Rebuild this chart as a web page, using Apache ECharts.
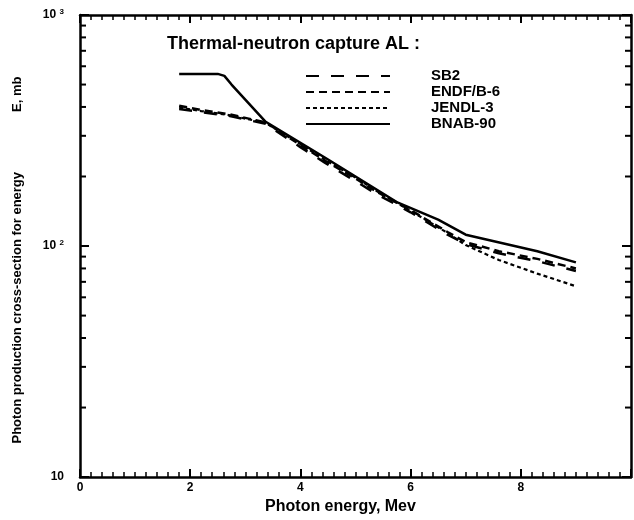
<!DOCTYPE html>
<html>
<head>
<meta charset="utf-8">
<script src="https://cdn.jsdelivr.net/npm/echarts@6/dist/echarts.min.js"></script>
<style>
  html, body { margin: 0; padding: 0; background: #fff; }
  #chart { width: 634px; height: 520px; }
</style>
</head>
<body>
<div id="chart"></div>
<script>
// energies (MeV) and cross-sections (mb)
const sb2E    = [1.8, 2.2, 2.7, 3.37, 4.0, 4.45, 5.0, 5.4, 6.0, 6.67, 7.0, 7.6, 8.3, 9.0];
const sb2     = [392, 380, 366, 338, 268, 229, 191, 167, 140, 112, 102, 93, 86, 78];
const endfE   = [1.8, 2.2, 2.7, 3.37, 4.0, 4.45, 5.0, 5.4, 6.0, 6.67, 7.0, 7.6, 8.3, 9.0];
const endf    = [405, 388, 372, 343, 274, 234, 196, 171, 143, 115, 104, 95, 88, 80];
const jendlE  = [1.8, 2.2, 2.7, 3.37, 4.0, 4.45, 5.0, 5.4, 6.0, 6.67, 7.0, 7.6, 8.3, 9.0];
const jendl   = [398, 384, 369, 341, 276, 236, 198, 172, 142, 114, 101, 87, 76, 67];
const bnabE   = [1.8, 2.5, 2.62, 2.75, 3.37, 4.0, 4.45, 5.0, 5.77, 6.5, 7.0, 8.3, 9.0];
const bnab    = [556, 556, 545, 500, 345, 280, 241, 200, 154, 130, 112, 95, 85];

const seriesNames = ['SB2', 'ENDF/B-6', 'JENDL-3', 'BNAB-90'];
const yMinorTicks = [20, 30, 40, 50, 60, 70, 80, 90, 200, 300, 400, 500, 600, 700, 800, 900];

const pairs = (xs, ys) => xs.map((x, i) => [x, ys[i]]);
const bold = 'bold';
const fam = '"Liberation Sans", Arial, sans-serif';

let myChart = echarts.init(document.getElementById('chart'));

function lineSeries(name, data, type, width) {
  return {
    name: name,
    type: 'line',
    data: data,
    symbol: 'none',
    smooth: false,
    lineStyle: { color: '#000', width: width, type: type },
    itemStyle: { color: '#000' },
    z: 3
  };
}

let option = {
  backgroundColor: '#fff',
  animation: false,
  textStyle: { fontFamily: fam },
  title: {
    text: 'Thermal-neutron capture AL :',
    left: 162,
    top: 30,
    textStyle: { fontSize: 18, fontWeight: bold, color: '#000', fontFamily: fam }
  },
  legend: {
    orient: 'vertical',
    left: 300,
    top: 63,
    itemWidth: 84,
    itemHeight: 10,
    itemGap: 0,
    data: seriesNames,
    itemStyle: { opacity: 0, borderWidth: 0 },
    textStyle: {
      fontSize: 15, fontWeight: bold, color: '#000', fontFamily: fam,
      lineHeight: 16,
      padding: [0, 0, 0, 36]
    }
  },
  grid: { left: 80, right: 2, top: 15, bottom: 42 },
  xAxis: [
    {
      type: 'value',
      min: 0, max: 10, interval: 2,
      name: 'Photon energy, Mev',
      nameLocation: 'middle',
      nameGap: 21,
      nameTextStyle: { fontSize: 16, fontWeight: bold, color: '#000', padding: [0, 30, 0, 0] },
      axisLine: { onZero: false, lineStyle: { color: '#000', width: 2.5 } },
      axisTick: { inside: true, length: 8, lineStyle: { color: '#000', width: 2 } },
      minorTick: { show: true, splitNumber: 10, length: 5, lineStyle: { color: '#000', width: 1.5 } },
      axisLabel: {
        fontSize: 12, fontWeight: bold, color: '#000', margin: 5,
        formatter: function (v) { return v >= 10 ? '' : String(v); }
      },
      splitLine: { show: false }
    },
    {
      type: 'value',
      position: 'top',
      min: 0, max: 10, interval: 2,
      axisLine: { onZero: false, lineStyle: { color: '#000', width: 2.5 } },
      axisTick: { inside: true, length: 8, lineStyle: { color: '#000', width: 2 } },
      minorTick: { show: true, splitNumber: 10, length: 5, lineStyle: { color: '#000', width: 1.5 } },
      axisLabel: { show: false },
      splitLine: { show: false }
    }
  ],
  yAxis: [
    {
      type: 'log',
      logBase: 10,
      min: 10, max: 1000,
      name: 'Photon production cross-section for energy{g|}E, mb',
      nameLocation: 'middle',
      nameGap: 56,
      nameRotate: 90,
      nameTextStyle: {
        fontSize: 13, fontWeight: bold, color: '#000', padding: [0, 28, 0, 0],
        rich: { g: { width: 60 } }
      },
      axisLine: { onZero: false, lineStyle: { color: '#000', width: 2.5 } },
      axisTick: { inside: true, length: 9, lineStyle: { color: '#000', width: 2 } },
      axisLabel: {
        fontSize: 12, fontWeight: bold, color: '#000', margin: 16,
        formatter: function (v) {
          if (v <= 10) return '10';
          if (v <= 100) return '10 {s|2}';
          return '10 {s|3}';
        },
        rich: { s: { fontSize: 8, fontWeight: bold, color: '#000', padding: [0, 0, 7, 0] } }
      },
      splitLine: { show: false }
    },
    {
      type: 'log',
      logBase: 10,
      position: 'right',
      min: 10, max: 1000,
      axisLine: { onZero: false, lineStyle: { color: '#000', width: 2.5 } },
      axisTick: { inside: true, length: 9, lineStyle: { color: '#000', width: 2 } },
      axisLabel: { show: false },
      splitLine: { show: false }
    }
  ],
  series: [
    lineSeries('SB2', pairs(sb2E, sb2), [13, 12], 2.5),
    lineSeries('ENDF/B-6', pairs(endfE, endf), [8, 5], 2.5),
    lineSeries('JENDL-3', pairs(jendlE, jendl), [4, 3], 2.2),
    lineSeries('BNAB-90', pairs(bnabE, bnab), 'solid', 2.5),
    {
      // minor log ticks on left and right frame
      type: 'custom',
      silent: true,
      clip: false,
      data: yMinorTicks.map(function (v) { return [0, v]; }),
      renderItem: function (params, api) {
        let left = api.coord([0, api.value(1)]);
        let right = api.coord([10, api.value(1)]);
        let st = { stroke: '#000', lineWidth: 2 };
        return {
          type: 'group',
          children: [
            { type: 'line', shape: { x1: left[0], y1: left[1], x2: left[0] + 6, y2: left[1] }, style: st },
            { type: 'line', shape: { x1: right[0], y1: right[1], x2: right[0] - 6, y2: right[1] }, style: st }
          ]
        };
      },
      z: 4
    }
  ]
};

window.onresize = myChart.resize;
myChart.setOption(option);
</script>
</body>
</html>
